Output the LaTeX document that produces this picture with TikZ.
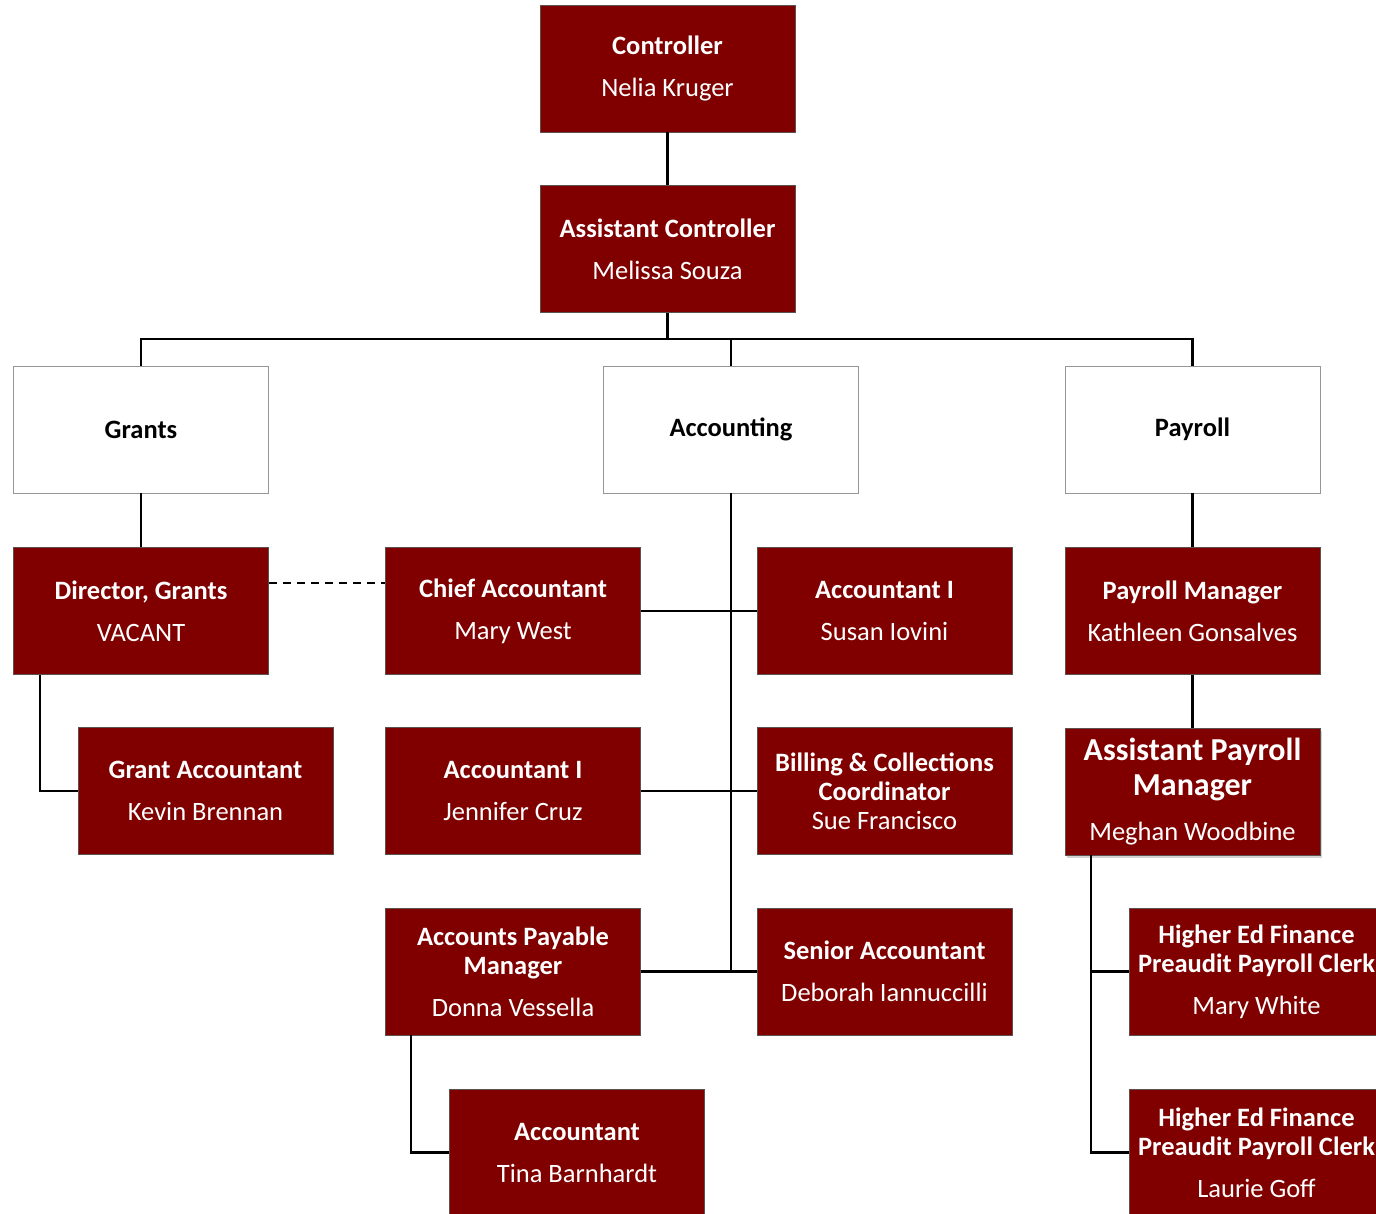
\documentclass[tikz,border=0pt]{standalone}
\usepackage{fontspec}
\setmainfont{Carlito}
\usetikzlibrary{shadows}
\definecolor{boxred}{RGB}{128,0,0}
\definecolor{boxedge}{RGB}{95,80,80}
\definecolor{deptedge}{RGB}{150,150,150}
\begin{document}
\begin{tikzpicture}[x=1pt,y=-1pt,
  posbox/.style={draw=boxedge, line width=0.9pt, fill=boxred, text=white,
    minimum width=255pt, minimum height=127pt, inner sep=0pt, align=center,
    font=\fontsize{26.5}{29}\selectfont},
  deptbox/.style={draw=deptedge, line width=0.9pt, fill=white, text=black,
    minimum width=255pt, minimum height=127pt, inner sep=0pt, align=center,
    font=\fontsize{26.5}{29}\selectfont\bfseries},
  link/.style={line width=2.4pt, black},
  dotlink/.style={line width=1.6pt, black, dash pattern=on 8pt off 6pt}]
\clip (0,0) rectangle (1376,1213);
\useasboundingbox (0,0) rectangle (1376,1213);

% nodes
\node[posbox] (ctrl) at (667.5,68.5) {\textbf{Controller}\\[13pt]Nelia Kruger};
\node[posbox] (actrl) at (667.5,249) {\textbf{Assistant Controller}\\[13pt]Melissa Souza};
\node[deptbox] (grants) at (141,429.5) {Grants};
\node[deptbox] (acct) at (731,429.5) {Accounting};
\node[deptbox] (payroll) at (1192.5,429.5) {Payroll};

\node[posbox] (dir) at (141,611) {\textbf{Director, Grants}\\[13pt]VACANT};
\node[posbox] (chief) at (513,611) {\textbf{Chief Accountant}\\[13pt]Mary West};
\node[posbox] (acc1) at (884.5,611) {\textbf{Accountant I}\\[13pt]Susan Iovini};
\node[posbox] (pmgr) at (1192.5,611) {\textbf{Payroll Manager}\\[13pt]Kathleen Gonsalves};

\node[posbox] (gacct) at (205.5,791) {\textbf{Grant Accountant}\\[13pt]Kevin Brennan};
\node[posbox] (acc2) at (513,791) {\textbf{Accountant I}\\[13pt]Jennifer Cruz};
\node[posbox] (bill) at (884.5,791) {\textbf{Billing \& Collections}\\\textbf{Coordinator}\\Sue Francisco};
\node[posbox, drop shadow={opacity=0.35, shadow xshift=2pt, shadow yshift=-3pt}] (apay) at (1192.5,791.5)
  {\fontsize{32}{35}\selectfont\textbf{Assistant Payroll}\\[6pt]\fontsize{32}{35}\selectfont\textbf{Manager}\\[16pt]\fontsize{26.5}{29}\selectfont Meghan Woodbine};

\node[posbox] (apm) at (513,971.5) {\textbf{Accounts Payable}\\\textbf{Manager}\\[13pt]Donna Vessella};
\node[posbox] (senior) at (884.5,971.5) {\textbf{Senior Accountant}\\[13pt]Deborah Iannuccilli};
\node[posbox] (hef1) at (1256.5,971.5) {\textbf{Higher Ed Finance}\\\textbf{Preaudit Payroll Clerk}\\[13pt]Mary White};

\node[posbox] (tina) at (577,1152.5) {\textbf{Accountant}\\[13pt]Tina Barnhardt};
\node[posbox] (hef2) at (1256.5,1152.5) {\textbf{Higher Ed Finance}\\\textbf{Preaudit Payroll Clerk}\\[13pt]Laurie Goff};

% connectors
\coordinate (bus) at (667.5,339);
\draw[link] (ctrl.south) -- (actrl.north);
\draw[link] (actrl.south) -- (bus);
\draw[link] (grants.north) |- (bus) -| (payroll.north);
\draw[link] (acct.north) -- (acct.north |- bus);
\draw[link] (grants.south) -- (dir.north);
\draw[link] (payroll.south) -- (pmgr.north);
\draw[link] (pmgr.south) -- (apay.north);

\draw[link] (acct.south) -- (acct.south |- apm.east);
\draw[link] (chief.east) -- (acc1.west);
\draw[link] (acc2.east) -- (bill.west);
\draw[link] (apm.east) -- (senior.west);

\draw[dotlink] ([yshift=28pt]dir.east) -- ([yshift=28pt]chief.west);

\draw[link] ([xshift=-101pt]dir.south) |- (gacct.west);
\draw[link] ([xshift=-102pt]apm.south) |- (tina.west);
\coordinate (ptrunk) at ([xshift=-101.5pt]apay.south);
\draw[link] (ptrunk) |- (hef2.west);
\draw[link] (hef1.west) -- (hef1.west -| ptrunk);
\end{tikzpicture}
\end{document}
